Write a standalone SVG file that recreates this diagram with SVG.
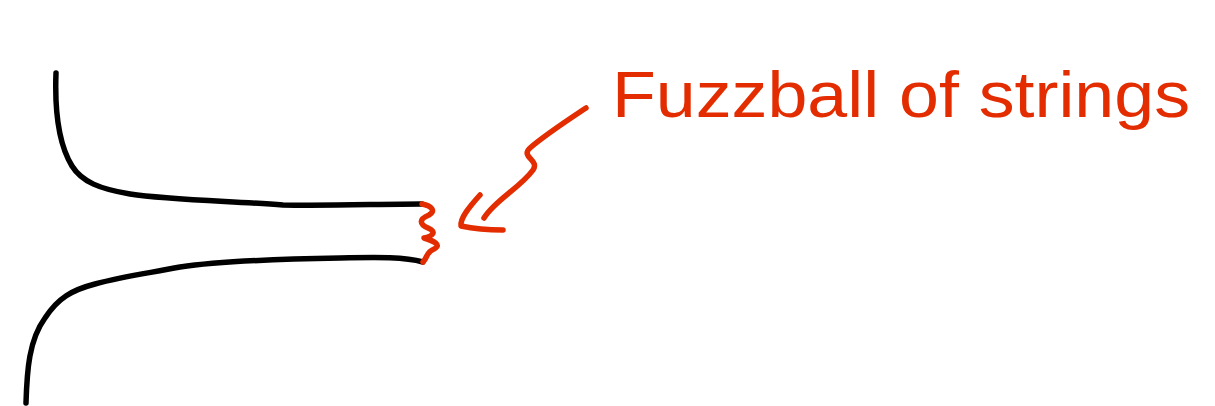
<svg xmlns="http://www.w3.org/2000/svg" width="1215" height="406" viewBox="0 0 1215 406">
<style>
.ink{fill:none;stroke:#000;stroke-width:5.5;stroke-linecap:round;stroke-linejoin:round}
.red{fill:none;stroke:#e32d00;stroke-width:5.5;stroke-linecap:round;stroke-linejoin:round}
.lbl{font-family:"Liberation Sans",Arial,sans-serif;font-size:64px;fill:#e32d00}
</style>
<rect width="1215" height="406" fill="#fff"/>
<g id="upper-brane">
<path class="ink" d="M56,73 C55,100 56,140 72,166 C82,182 100,189 130,194 C170,200 230,201 283,205 C330,206 380,204 422,204"/>
</g>
<g id="lower-brane">
<path class="ink" d="M26,403 C27,370 29,340 45,318 C58,298 72,290 95,284 C125,276 150,273 180,267 C220,261 280,259 340,258 C380,257 405,257 423,262"/>
</g>
<g id="fuzzball">
<path class="red" d="M422,204 C432,206 436,211 429,215 C419,219 419,224 428,228 C437,232 433,236 424,238 C434,241 442,245 434,249 C426,252 428,257 423,262"/>
</g>
<g id="connectors">
<path class="red" d="M586,108 C565,122 545,135 530,148 C520,157 540,160 533,170 C520,188 495,200 484,218"/>
<path class="red" d="M480,195 C470,206 460,218 461,226 C475,229 490,230 503,230"/>
</g>
<g id="label">
<text class="lbl" x="612" y="117" textLength="578" lengthAdjust="spacingAndGlyphs">Fuzzball of strings</text>
</g>
</svg>
